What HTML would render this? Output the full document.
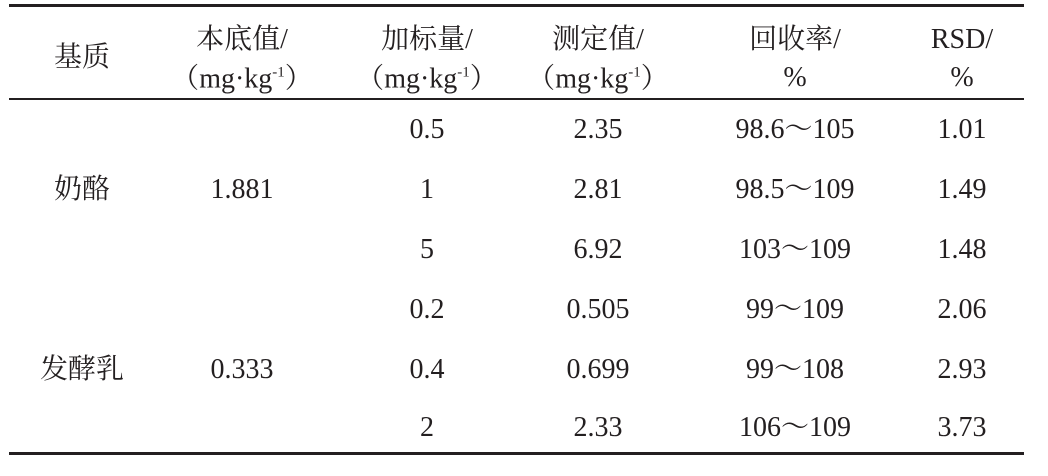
<!DOCTYPE html>
<html><head><meta charset="utf-8"><style>
body{margin:0;width:1048px;height:476px;background:#fff;position:relative;overflow:hidden;font-family:"Liberation Serif","Noto Serif CJK SC",serif;color:#231f20;font-size:28px}
.l{position:absolute;left:9px;width:1015px;background:#231f20}
.t{position:absolute;transform:translate(-50%,-50%);white-space:nowrap;line-height:1}
sup{font-size:15px;vertical-align:11px}
.p{font-family:"Noto Serif CJK SC",serif}
</style></head><body>
<div class="l" style="top:4px;height:3px"></div>
<div class="l" style="top:98px;height:2px"></div>
<div class="l" style="top:452px;height:3px"></div>

<div class="t" style="left:82px;top:58px">基质</div>
<div class="t" style="left:242px;top:40px">本底值/</div>
<div class="t" style="left:242px;top:78px"><span class="p">（</span>mg·kg<sup>-1</sup><span class="p">）</span></div>
<div class="t" style="left:427px;top:40px">加标量/</div>
<div class="t" style="left:427px;top:78px"><span class="p">（</span>mg·kg<sup>-1</sup><span class="p">）</span></div>
<div class="t" style="left:598px;top:40px">测定值/</div>
<div class="t" style="left:598px;top:78px"><span class="p">（</span>mg·kg<sup>-1</sup><span class="p">）</span></div>
<div class="t" style="left:795px;top:40px">回收率/</div>
<div class="t" style="left:795px;top:78px">%</div>
<div class="t" style="left:962px;top:40px">RSD/</div>
<div class="t" style="left:962px;top:78px">%</div>

<div class="t" style="left:82px;top:190px">奶酪</div>
<div class="t" style="left:242px;top:190px">1.881</div>
<div class="t" style="left:82px;top:370px">发酵乳</div>
<div class="t" style="left:242px;top:370px">0.333</div>

<div class="t" style="left:427px;top:130px">0.5</div><div class="t" style="left:598px;top:130px">2.35</div><div class="t" style="left:795px;top:130px">98.6～105</div><div class="t" style="left:962px;top:130px">1.01</div>
<div class="t" style="left:427px;top:190px">1</div><div class="t" style="left:598px;top:190px">2.81</div><div class="t" style="left:795px;top:190px">98.5～109</div><div class="t" style="left:962px;top:190px">1.49</div>
<div class="t" style="left:427px;top:250px">5</div><div class="t" style="left:598px;top:250px">6.92</div><div class="t" style="left:795px;top:250px">103～109</div><div class="t" style="left:962px;top:250px">1.48</div>
<div class="t" style="left:427px;top:310px">0.2</div><div class="t" style="left:598px;top:310px">0.505</div><div class="t" style="left:795px;top:310px">99～109</div><div class="t" style="left:962px;top:310px">2.06</div>
<div class="t" style="left:427px;top:370px">0.4</div><div class="t" style="left:598px;top:370px">0.699</div><div class="t" style="left:795px;top:370px">99～108</div><div class="t" style="left:962px;top:370px">2.93</div>
<div class="t" style="left:427px;top:428px">2</div><div class="t" style="left:598px;top:428px">2.33</div><div class="t" style="left:795px;top:428px">106～109</div><div class="t" style="left:962px;top:428px">3.73</div>
</body></html>
